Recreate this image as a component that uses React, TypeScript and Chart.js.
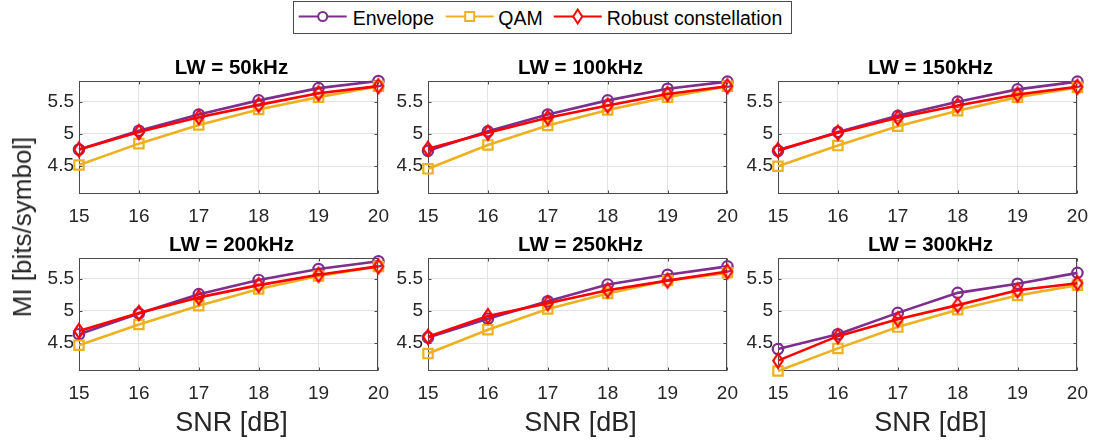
import React, { useEffect, useRef } from "react";
import { Chart, registerables } from "chart.js";

Chart.register(...registerables);

// ---------- data ----------
const snrLabels = ["15", "16", "17", "18", "19", "20"];
const yTickValues = [4.5, 5, 5.5];
const yMin = 4.07;
const yMax = 5.82;
const seriesNames = ["Envelope", "QAM", "Robust constellation"];
const panelTitles = ["LW = 50kHz", "LW = 100kHz", "LW = 150kHz", "LW = 200kHz", "LW = 250kHz", "LW = 300kHz"];

const env50 = [4.76, 5.05, 5.3, 5.52, 5.71, 5.82];
const qam50 = [4.52, 4.85, 5.14, 5.38, 5.57, 5.74];
const rob50 = [4.76, 5.03, 5.26, 5.45, 5.63, 5.74];

const env100 = [4.74, 5.04, 5.3, 5.52, 5.7, 5.81];
const qam100 = [4.46, 4.83, 5.13, 5.37, 5.57, 5.74];
const rob100 = [4.77, 5.02, 5.25, 5.44, 5.62, 5.74];

const env150 = [4.74, 5.03, 5.28, 5.5, 5.69, 5.81];
const qam150 = [4.5, 4.82, 5.12, 5.36, 5.57, 5.72];
const rob150 = [4.75, 5.02, 5.25, 5.44, 5.61, 5.73];

const env200 = [4.64, 4.96, 5.26, 5.48, 5.65, 5.77];
const qam200 = [4.47, 4.79, 5.08, 5.34, 5.54, 5.69];
const rob200 = [4.69, 4.97, 5.21, 5.4, 5.56, 5.69];

const env250 = [4.59, 4.88, 5.15, 5.41, 5.56, 5.69];
const qam250 = [4.34, 4.71, 5.03, 5.27, 5.47, 5.59];
const rob250 = [4.6, 4.92, 5.12, 5.32, 5.47, 5.61];

const env300 = [4.41, 4.64, 4.97, 5.28, 5.42, 5.59];
const qam300 = [4.07, 4.42, 4.75, 5.02, 5.24, 5.4];
const rob300 = [4.23, 4.61, 4.87, 5.09, 5.32, 5.43];

const envelopeSeries = [env50, env100, env150, env200, env250, env300];
const qamSeries = [qam50, qam100, qam150, qam200, qam250, qam300];
const robustSeries = [rob50, rob100, rob150, rob200, rob250, rob300];

// ---------- style ----------
const PURPLE = "#7E2F8E";
const YELLOW = "#EDB120";
const RED = "#FF0000";
const GRID = "#e3e3e3";
const AXIS = "#4a4a4a";
const TEXT = "#262626";
const FONT = "'Liberation Sans', Arial, Helvetica, sans-serif";

const PLOT_W = 305;
const PLOT_H = 113;
const PAD_L = 60;
const PAD_T = 40;
const PAD_R = 16;
const PAD_B = 40;
const colLefts = [79, 428, 778];
const rowTops = [81, 258];

function makeDiamond(): HTMLCanvasElement {
  const c = document.createElement("canvas");
  c.width = 16;
  c.height = 20;
  const ctx = c.getContext("2d")!;
  ctx.strokeStyle = RED;
  ctx.lineWidth = 2.2;
  ctx.lineJoin = "miter";
  ctx.beginPath();
  ctx.moveTo(8, 3);
  ctx.lineTo(12.8, 10);
  ctx.lineTo(8, 17);
  ctx.lineTo(3.2, 10);
  ctx.closePath();
  ctx.stroke();
  return c;
}

const boxPlugin = {
  id: "matlabBox",
  beforeDatasetsDraw(chart: any) {
    const { ctx, chartArea: a, scales } = chart;
    ctx.save();
    ctx.strokeStyle = AXIS;
    ctx.lineWidth = 1;
    const l = Math.round(a.left) + 0.5;
    const r = Math.round(a.right) - 0.5;
    const t = Math.round(a.top) + 0.5;
    const b = Math.round(a.bottom) - 0.5;
    ctx.strokeRect(l, t, r - l, b - t);
    ctx.beginPath();
    snrLabels.forEach((_, i) => {
      const x = Math.round(scales.x.getPixelForValue(i)) + 0.5;
      ctx.moveTo(x, b);
      ctx.lineTo(x, b - 3);
      ctx.moveTo(x, t);
      ctx.lineTo(x, t + 3);
    });
    yTickValues.forEach((v) => {
      const y = Math.round(scales.y.getPixelForValue(v)) + 0.5;
      ctx.moveTo(l, y);
      ctx.lineTo(l + 3, y);
      ctx.moveTo(r, y);
      ctx.lineTo(r - 3, y);
    });
    ctx.stroke();
    ctx.restore();
  },
};

function Panel({ idx }: { idx: number }) {
  const ref = useRef<HTMLCanvasElement>(null);
  const col = idx % 3;
  const row = Math.floor(idx / 3);
  const left = colLefts[col] - PAD_L;
  const top = rowTops[row] - PAD_T;
  const w = PAD_L + PLOT_W + PAD_R;
  const h = PAD_T + PLOT_H + PAD_B;

  useEffect(() => {
    const diamond = makeDiamond();
    const common = { borderWidth: 2.6, pointBorderWidth: 2.2, pointBackgroundColor: "rgba(0,0,0,0)", backgroundColor: "rgba(0,0,0,0)", clip: false as any, tension: 0 };
    const chart = new Chart(ref.current!, {
      type: "line",
      data: {
        labels: snrLabels,
        datasets: [
          { ...common, label: seriesNames[0], data: envelopeSeries[idx], borderColor: PURPLE, pointBorderColor: PURPLE, pointStyle: "circle", pointRadius: 5.2, order: 3 },
          { ...common, label: seriesNames[1], data: qamSeries[idx], borderColor: YELLOW, pointBorderColor: YELLOW, pointStyle: "rect", pointRadius: 6.6, order: 2 },
          { ...common, label: seriesNames[2], data: robustSeries[idx], borderColor: RED, pointBorderColor: RED, pointStyle: diamond as any, pointRadius: 7, order: 1 },
        ],
      },
      options: {
        responsive: false,
        animation: false,
        events: [],
        layout: { padding: { top: PAD_T, right: PAD_R, left: 0, bottom: 0 } },
        plugins: { legend: { display: false }, tooltip: { enabled: false }, title: { display: false } },
        scales: {
          x: {
            type: "category",
            offset: false,
            border: { display: false },
            grid: { color: GRID, drawTicks: false, lineWidth: 1 },
            ticks: { color: TEXT, padding: 11, font: { family: FONT, size: 19 }, maxRotation: 0, autoSkip: false },
            afterFit: (s: any) => {
              s.height = PAD_B;
            },
          },
          y: {
            min: yMin,
            max: yMax,
            border: { display: false },
            grid: { color: GRID, drawTicks: false, lineWidth: 1 },
            ticks: { color: TEXT, padding: 5, font: { family: FONT, size: 19 }, callback: (v: any) => String(v) },
            afterBuildTicks: (s: any) => {
              s.ticks = yTickValues.map((v) => ({ value: v }));
            },
            afterFit: (s: any) => {
              s.width = PAD_L;
            },
          },
        },
      },
      plugins: [boxPlugin],
    });
    return () => chart.destroy();
  }, [idx]);

  return (
    <>
      <canvas ref={ref} width={w} height={h} style={{ position: "absolute", left, top, width: w, height: h }} />
      <div
        style={{
          position: "absolute",
          left: colLefts[col] + PLOT_W / 2,
          top: rowTops[row] - 14,
          transform: "translate(-50%, -50%)",
          font: `bold 20.5px ${FONT}`,
          color: "#000",
          whiteSpace: "nowrap",
          lineHeight: "24px",
        }}
      >
        {panelTitles[idx]}
      </div>
    </>
  );
}

function Legend() {
  const items = [
    { name: seriesNames[0], color: PURPLE, cx: 322.7, tx: 352.7, kind: "circle" },
    { name: seriesNames[1], color: YELLOW, cx: 469.7, tx: 498.3, kind: "square" },
    { name: seriesNames[2], color: RED, cx: 577.7, tx: 606.7, kind: "diamond" },
  ];
  const bx = 293;
  const by = 1;
  const bw = 498;
  const bh = 32;
  return (
    <svg style={{ position: "absolute", left: 0, top: 0 }} width={1100} height={40}>
      <rect x={bx + 0.5} y={by + 0.5} width={bw} height={bh} fill="#fff" stroke={AXIS} strokeWidth={1} />
      {items.map((it) => (
        <g key={it.name}>
          <line x1={it.cx - 24} x2={it.cx + 24} y1={16.5} y2={16.5} stroke={it.color} strokeWidth={2.2} />
          {it.kind === "circle" && <circle cx={it.cx} cy={16.5} r={4.5} fill="#fff" stroke={it.color} strokeWidth={2} />}
          {it.kind === "square" && <rect x={it.cx - 4.5} y={12} width={9} height={9} fill="#fff" stroke={it.color} strokeWidth={2} />}
          {it.kind === "diamond" && (
            <polygon points={`${it.cx},${9.5} ${it.cx + 4.5},${16.5} ${it.cx},${23.5} ${it.cx - 4.5},${16.5}`} fill="#fff" stroke={it.color} strokeWidth={2} />
          )}
          <text x={it.tx} y={24.5} fill="#000" style={{ font: `19.5px ${FONT}` }}>
            {it.name}
          </text>
        </g>
      ))}
    </svg>
  );
}

export default function App() {
  return (
    <div style={{ position: "fixed", left: 0, top: 0, width: 1100, height: 445, overflow: "hidden", background: "#fff" }}>
      {[0, 1, 2, 3, 4, 5].map((i) => (
        <Panel key={i} idx={i} />
      ))}
      <Legend />
      <div
        style={{
          position: "absolute",
          left: 22,
          top: 226.5,
          transform: "translate(-50%, -50%) rotate(-90deg)",
          font: `26px ${FONT}`,
          color: TEXT,
          whiteSpace: "nowrap",
          lineHeight: "30px",
        }}
      >
        MI [bits/symbol]
      </div>
      {colLefts.map((l) => (
        <div
          key={l}
          style={{
            position: "absolute",
            left: l + PLOT_W / 2,
            top: 421.7,
            transform: "translate(-50%, -50%)",
            font: `27px ${FONT}`,
            color: TEXT,
            whiteSpace: "nowrap",
            lineHeight: "30px",
          }}
        >
          SNR [dB]
        </div>
      ))}
    </div>
  );
}
